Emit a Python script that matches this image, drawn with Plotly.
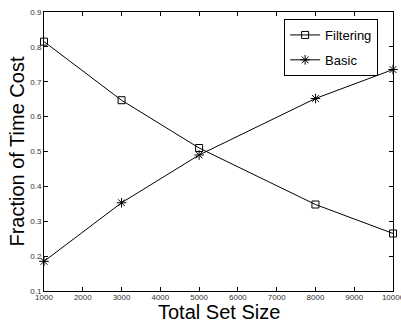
import plotly.graph_objects as go

set_size = [1000, 3000, 5000, 8000, 10000]
filtering = [0.815, 0.647, 0.51, 0.348, 0.265]
basic = [0.185, 0.353, 0.49, 0.652, 0.735]
x_ticks = [1000, 2000, 3000, 4000, 5000, 6000, 7000, 8000, 9000, 10000]
y_ticks = [0.1, 0.2, 0.3, 0.4, 0.5, 0.6, 0.7, 0.8, 0.9]

FONT = "Liberation Sans, Arial"

fig = go.Figure()
fig.add_trace(go.Scatter(x=set_size, y=filtering, name="Filtering", mode="lines+markers",
                         cliponaxis=False, legendgroup="f",
                         line=dict(color="black", width=1),
                         marker=dict(symbol="square-open", size=7, color="black", line=dict(width=1))))
fig.add_trace(go.Scatter(x=set_size, y=basic, name="Basic", mode="lines+markers",
                         cliponaxis=False, legendgroup="b",
                         line=dict(color="black", width=1),
                         marker=dict(symbol="asterisk-open", size=8, color="black", line=dict(width=1, color="black"))))

axis_common = dict(showgrid=False, zeroline=False, showline=True, linecolor="black", linewidth=1,
                   mirror="allticks", ticks="inside", ticklen=4, tickcolor="black", automargin=False,
                   ticklabeloverflow="allow",
                   tickfont=dict(family=FONT, size=8, color="#333"))
fig.update_layout(
    width=401, height=323,
    margin=dict(l=44, r=8, t=12, b=32),
    paper_bgcolor="white", plot_bgcolor="white",
    xaxis=dict(range=[1000, 10000], tickvals=x_ticks, ticktext=[str(v) for v in x_ticks],
               ticklabelstandoff=-2, **axis_common),
    yaxis=dict(range=[0.1, 0.9], tickvals=y_ticks, ticktext=[f"{v:.1f}" for v in y_ticks],
               **axis_common),
    legend=dict(x=0.688, y=0.975, xanchor="left", yanchor="top", bordercolor="black", borderwidth=1,
                bgcolor="white", font=dict(family=FONT, size=13, color="black"),
                itemwidth=30, tracegroupgap=5),
    showlegend=True,
    annotations=[
        dict(text="Total Set Size", xref="paper", yref="paper", x=0.5, y=-0.076,
             xanchor="center", yanchor="middle", showarrow=False,
             font=dict(family=FONT, size=20, color="black")),
        dict(text="Fraction of Time Cost", xref="paper", yref="paper", x=-0.08, y=0.5,
             xanchor="center", yanchor="middle", showarrow=False, textangle=-90,
             font=dict(family=FONT, size=20, color="black")),
    ],
)
fig.write_html("out.html", config={"displayModeBar": False, "staticPlot": True},
               post_script="document.body.style.margin='0';document.body.style.overflow='hidden';")
